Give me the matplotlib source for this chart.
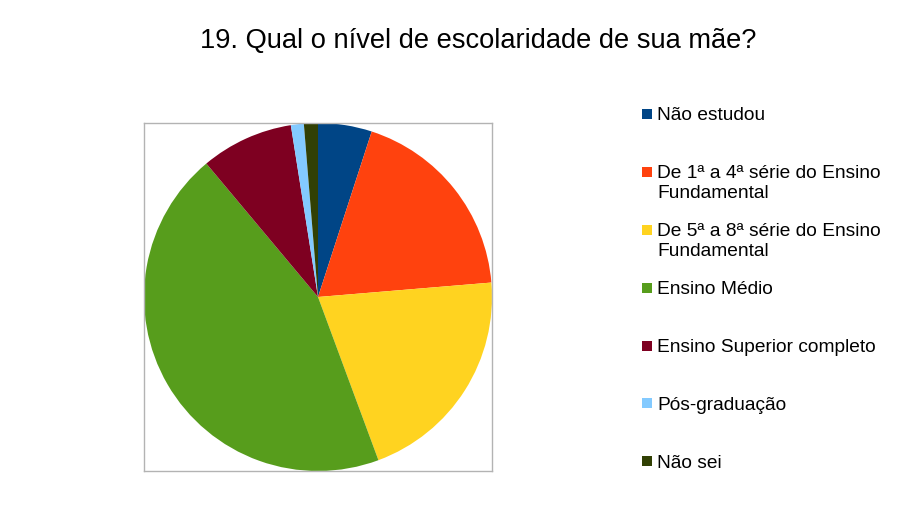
import matplotlib
matplotlib.use("Agg")
import matplotlib.pyplot as plt
from matplotlib.patches import Rectangle

plt.rcParams['font.family'] = ['Liberation Sans', 'DejaVu Sans']

# Dados (percentuais aproximados)
categorias = [
    "Não estudou",
    "De 1ª a 4ª série do Ensino\nFundamental",
    "De 5ª a 8ª série do Ensino\nFundamental",
    "Ensino Médio",
    "Ensino Superior completo",
    "Pós-graduação",
    "Não sei",
]
valores = [5.0, 18.7, 20.7, 44.6, 8.6, 1.2, 1.3]
cores = ['#004586', '#ff420e', '#ffd320', '#579d1c', '#7e0021', '#83caff', '#314004']

W, H = 897, 527
fig = plt.figure(figsize=(W / 100, H / 100), dpi=100)

# área do gráfico (caixa cinza)
x0, y0, lado = 144, 123, 348
ax = fig.add_axes([x0 / W, (H - y0 - lado) / H, lado / W, lado / H])
ax.pie(valores, colors=cores, startangle=90, counterclock=False, radius=1.0,
       wedgeprops=dict(linewidth=0))
ax.set_xlim(-1.0, 1.0)
ax.set_ylim(-1.0, 1.0)
ax.set_aspect('auto')
ax.set_frame_on(True)
ax.set_xticks([])
ax.set_yticks([])
for s in ax.spines.values():
    s.set_visible(True)
    s.set_color('#b3b3b3')
    s.set_linewidth(1)

fig.text(478 / W, 1 - 41 / H, "19. Qual o nível de escolaridade de sua mãe?",
         ha='center', va='center', fontsize=19.6)

# legenda manual (cada linha do rótulo como texto separado)
linhas_y = [114, 172, 230, 288, 346, 403, 461]
for nome, cor, ly in zip(categorias, cores, linhas_y):
    fig.patches.append(Rectangle((642 / W, 1 - (ly + 5) / H), 10 / W, 10 / H,
                                 transform=fig.transFigure, facecolor=cor,
                                 edgecolor='none'))
    for i, parte in enumerate(nome.split("\n")):
        fig.text(657 / W, 1 - (ly + 2 + 20 * i) / H, parte, ha='left',
                 va='center', fontsize=13.8)

fig.savefig("out.png", dpi=100)
